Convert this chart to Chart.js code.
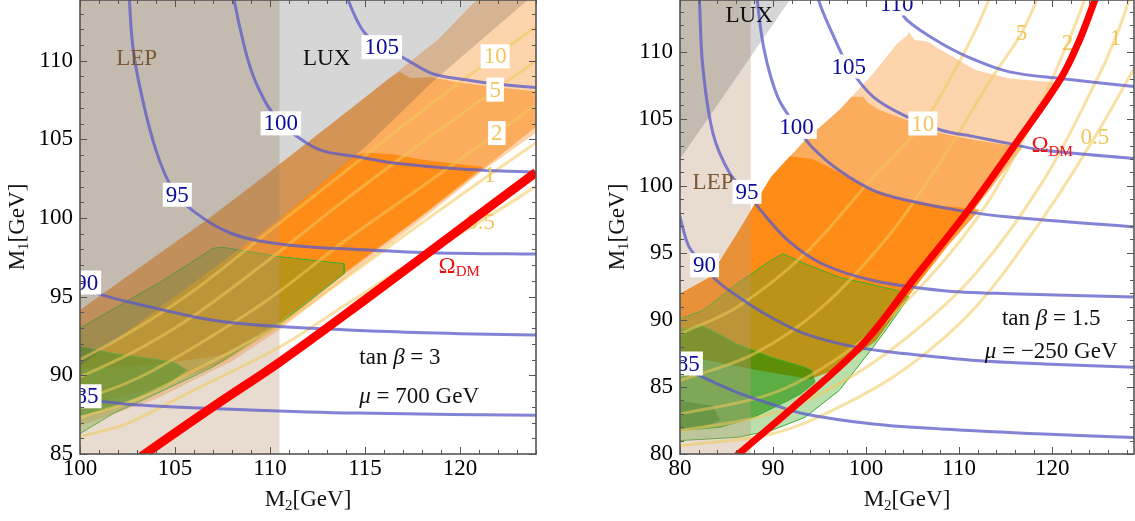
<!DOCTYPE html>
<html>
<head>
<meta charset="utf-8">
<script src="https://cdn.jsdelivr.net/npm/chart.js@4.4.0/dist/chart.umd.min.js"></script>
<style>
  html, body { margin: 0; padding: 0; background: #fff; overflow: hidden; }
  #wrap { position: relative; width: 1135px; height: 521px; }
  canvas { position: absolute; top: 0; }
  #left { left: 0; }
  #right { left: 600px; }
</style>
</head>
<body>
<div id="wrap">
  <canvas id="left" width="540" height="521"></canvas>
  <canvas id="right" width="535" height="521"></canvas>
</div>
<script>
const SERIF = "'Liberation Serif', 'DejaVu Serif', serif";

// ---------- left panel: tan beta = 3, mu = 700 GeV ----------
const L_xRange = [100, 124];
const L_yRange = [85, 113.86];
const L_xTicks = [100, 105, 110, 115, 120];
const L_yTicks = [85, 90, 95, 100, 105, 110];

const L_lep = [[99, 80], [110.5, 80], [110.5, 120], [99, 120]];
const L_lux = [[99, 89.7], [100, 90.6], [106, 95.9], [110.5, 99.9], [115, 104.5], [118.5, 108.6], [123.6, 113.9], [125, 115.4], [99, 115.4]];

const L_peach = [[99, 93.3], [100, 94.15], [106.7, 99.9], [109, 102], [114.2, 106.9], [118.8, 111.3], [120.9, 113.9], [121.5, 114.5],
  [124.5, 114.5], [124.5, 105.8], [124, 105.4], [121.2, 103.0], [118, 99.9], [114, 96.2], [110.5, 92.9], [108, 90.9], [104, 88.5], [100, 86.8], [99, 86.3]];
const L_medium = [[99, 93.3], [100, 94.15], [106.7, 99.9], [109, 102], [114.2, 106.9], [116.2, 108.8], [116.8, 109.3], [117.4, 108.9],
  [118.5, 108.95], [120, 108.6], [122, 108.3], [124.5, 108.0], [124.5, 106.1], [124, 105.8], [121.2, 103.1], [118, 100.1], [114, 96.5],
  [110.5, 93.1], [107.5, 90.8], [104, 89.2], [100, 88.0], [99, 87.5]];
const L_dark = [[99, 89.7], [100, 90.6], [106, 95.9], [110.5, 99.9], [114.5, 104.0], [115.2, 104.15], [116.5, 104.05], [118, 103.7],
  [121.2, 103.25], [118, 100.2], [114, 96.6], [110.5, 93.4], [107.5, 91.3], [105.3, 90.9], [103, 90.6], [100, 90.4], [99, 90.3]];

const L_green1 = [[100, 93.0], [102.3, 94.6], [104.4, 96.05], [107.0, 98.07], [107.5, 98.14], [110.5, 97.54], [113.9, 97.1], [113.9, 96.48],
  [110.53, 93.3], [107.0, 90.54], [104.4, 89.05], [101.75, 87.57], [100, 86.3], [99, 85.8], [99, 92.5], [100, 93.0]];
const L_green2 = [[99, 91.9], [100, 91.81], [101.75, 91.39], [104.9, 90.86], [105.6, 90.33], [104.4, 89.26], [101.75, 87.99], [100, 87.46], [99, 87.3], [99, 91.9]];

// chargino mass contours (GeV)
const L_m105 = [[113.9, 115], [114.1, 113.9], [114.9, 111.9], [115.9, 110.86], [117, 110.2], [118.5, 109.2], [120.2, 108.8], [122, 108.5], [124.5, 108.25]];
const L_m100 = [[108.0, 115], [108.1, 113.9], [108.9, 109.8], [109.7, 107.5], [110.57, 106.02], [111.4, 105.2], [112.7, 104.3], [114.6, 103.9], [116.5, 103.5], [120.2, 103.1], [124.5, 102.9]];
const L_m95 = [[102.6, 115], [102.6, 113.9], [102.8, 110.7], [103.3, 107.5], [104.0, 104.3], [104.8, 102.0], [105.9, 100.5], [108.0, 99.0], [110.8, 98.3], [114.6, 98.0], [118.4, 97.8], [124.5, 97.7]];
const L_m90 = [[99.5, 96.0], [100, 95.7], [101.2, 95.1], [103.5, 94.4], [107, 93.5], [110.5, 93.1], [115.8, 92.8], [120, 92.65], [124.5, 92.55]];
const L_m85 = [[99.5, 88.6], [100, 88.5], [103.3, 88.1], [108.9, 87.8], [114.6, 87.6], [124.5, 87.45]];

// yellow ratio contours
const L_y05 = [[99, 85.7], [100, 86.1], [102.46, 86.93], [105.96, 89.05], [110.5, 91.8], [114, 94.5], [118, 97.6], [121.1, 99.8], [124.5, 102.4]];
const L_y1 = [[99, 86.9], [100, 87.3], [103, 88.5], [106, 90.3], [110.5, 93.2], [114, 96.2], [118, 99.7], [121.56, 102.75], [124.5, 105.2]];
const L_y2 = [[99, 88.0], [100, 88.4], [103, 89.8], [106, 91.8], [110, 94.9], [114, 98.6], [118, 102.0], [121.94, 105.4], [124.5, 107.6]];
const L_y5 = [[99, 89.4], [100, 89.9], [103, 91.6], [106, 93.8], [110, 97.4], [114, 101.2], [118, 104.8], [121.85, 108.16], [124.5, 110.4]];
const L_y10 = [[99, 90.6], [100, 91.0], [103, 93.0], [106, 95.4], [110, 99.2], [114, 103.0], [118, 106.8], [121.85, 110.28], [124.5, 112.6]];

const L_relic = [[103.0, 84.6], [103.42, 85.0], [107, 88.0], [110.53, 90.86], [115, 94.8], [120, 99.3], [124, 102.9], [124.5, 103.35]];

const L_blueLabels = [['105', 115.88, 110.86], ['100', 110.57, 106.02], ['95', 105.12, 101.48], ['90', 100.35, 95.9], ['85', 100.37, 88.67]];
const L_yellowLabels = [['10', 121.85, 110.28, true], ['5', 121.85, 108.16, true], ['2', 121.94, 105.4, true], ['1', 121.56, 102.75, false], ['0.5', 121.09, 99.78, false]];

// ---------- right panel: tan beta = 1.5, mu = -250 GeV ----------
const R_xRange = [80, 128.8];
const R_yRange = [80, 113.86];
const R_xTicks = [80, 90, 100, 110, 120];
const R_yTicks = [80, 85, 90, 95, 100, 105, 110];

const R_lep = [[79, 70], [87.6, 70], [87.6, 120], [79, 120]];
const R_lux = [[79, 101.0], [80, 102.0], [91.8, 113.86], [93, 115], [79, 115]];

const R_peach = [[79, 91.6], [80, 91.95], [83.19, 93.19], [86.12, 96.43], [89.78, 100.66], [93.44, 103.4], [97.1, 105.64], [100.77, 108.38],
  [103.33, 110.62], [104.43, 111.24], [104.6, 111.5], [105.2, 110.9], [106.63, 110.74], [108.1, 110.12], [111.76, 108.63], [115.42, 108.0],
  [120.4, 107.7], [120.4, 107.55], [117.3, 103.9], [113.5, 99.9], [109.0, 95.9], [104.8, 92.0], [101, 88.4], [97, 86.4], [94, 85.6], [88, 86.3], [80, 87.4], [79, 87.5]];
const R_medium = [[79, 91.6], [80, 91.95], [83.19, 93.19], [86.12, 96.43], [89.78, 100.66], [93.44, 103.4], [97.1, 105.64], [98.44, 106.64],
  [99.67, 106.64], [100.2, 106.2], [101.5, 105.64], [104.43, 104.9], [108.1, 103.9], [111.76, 103.4], [115.42, 103.03], [117.0, 103.0],
  [113.5, 99.9], [109.0, 95.9], [104.8, 92.0], [101, 88.4], [97, 86.4], [94, 85.6], [88, 86.3], [80, 87.4], [79, 87.5]];
const R_dark = [[79, 91.6], [80, 91.95], [83.19, 93.19], [86.12, 96.43], [89.78, 100.66], [91.8, 102.2], [94.2, 102.0], [97.1, 101.0],
  [100.77, 99.6], [104.43, 98.9], [108.1, 98.5], [111.76, 98.3], [112.2, 98.2], [108.9, 95.6], [104.8, 92.0], [101, 88.4], [97, 86.4],
  [94, 85.6], [88, 86.3], [80, 87.4], [79, 87.5]];

const R_green1 = [[79, 89.9], [80, 90.08], [82.45, 90.7], [86.12, 92.7], [89.78, 94.44], [91.06, 94.94], [93.44, 94.19], [97.1, 93.19],
  [103.33, 92.2], [104.6, 91.7], [102.6, 89.7], [100.77, 87.97], [97.1, 84.73], [93.44, 82.74], [89.78, 81.74], [86.12, 81.24], [80, 81.0], [79, 80.95], [79, 89.9]];
const R_green2 = [[79, 89.1], [80, 89.2], [82.2, 89.6], [84, 89.0], [86.12, 88.2], [89.78, 87.22], [93.44, 86.47], [94.2, 86.2], [94.5, 85.35],
  [93, 84.5], [91.6, 83.98], [87.95, 82.74], [84.29, 81.99], [80, 81.75], [79, 81.7], [79, 89.1]];
const R_green3 = [[79, 84.0], [80, 83.98], [83.55, 83.6], [84.3, 82.5], [82.45, 81.99], [80, 81.87], [79, 81.85], [79, 84.0]];

const R_m110 = [[101.5, 116], [102.5, 114.5], [103.3, 113.6], [104.4, 112.36], [108.1, 110.62], [111.76, 109.37], [115.42, 108.5], [120.9, 108.0], [129.5, 107.35]];
const R_m105 = [[94.8, 115], [94.9, 113.86], [96.37, 111.37], [98.13, 108.9], [100.77, 106.64], [104.43, 105.14], [108.1, 104.15], [111.76, 103.65], [115.42, 103.15], [119.08, 102.65], [129.5, 102.0]];
const R_m100 = [[88.2, 115], [88.3, 113.86], [89.05, 110.12], [90.5, 106.64], [92.53, 104.4], [94.18, 102.9], [97.1, 101.16], [100.77, 99.67], [104.43, 98.92], [109.93, 98.17], [115.42, 97.67], [129.5, 96.9]];
const R_m95 = [[82.05, 115], [82.09, 113.86], [82.45, 108.88], [83.55, 103.9], [85.38, 100.91], [87.2, 99.55], [88.68, 98.17], [91.6, 95.93], [95.27, 94.19], [100.77, 92.94], [108.1, 92.2], [115.42, 91.95], [129.5, 91.7]];
const R_m90 = [[79.5, 98.8], [80, 97.67], [80.99, 95.43], [82.64, 94.08], [83.92, 92.94], [86.85, 91.45], [89.78, 90.2], [93.44, 88.96], [98.94, 87.97], [104.43, 87.47], [111.76, 86.97], [119.08, 86.72], [129.5, 86.45]];
const R_m85 = [[79.5, 86.8], [80, 86.6], [82.45, 85.73], [86.12, 84.6], [89.78, 83.73], [93.44, 82.99], [100.77, 82.24], [108.1, 81.87], [119.08, 81.49], [129.5, 81.22]];

const R_y05 = [[79, 80.55], [80, 80.62], [89.78, 81.49], [97.1, 83.49], [104.43, 86.47], [111.76, 90.95], [119.08, 97.67], [124.6, 103.65], [129.5, 109.6]];
const R_y1 = [[79, 81.7], [80, 81.74], [89.78, 82.99], [97.1, 85.23], [104.43, 88.71], [111.76, 93.44], [119.08, 100.41], [124.6, 107.63], [126.8, 111.0], [128.6, 114.5]];
const R_y2 = [[79, 82.9], [80, 82.99], [89.78, 84.48], [97.1, 87.22], [104.43, 91.45], [111.76, 97.43], [117.25, 103.9], [121.65, 110.62], [123.5, 113.86], [124, 114.8]];
const R_y5 = [[79, 85.2], [80, 85.48], [87.95, 87.47], [95.27, 90.95], [102.6, 96.43], [108.1, 101.9], [113.6, 108.13], [116.7, 111.37], [118.35, 113.86], [119, 115]];
const R_y10 = [[79, 88.6], [80, 88.96], [86.12, 90.95], [93.44, 94.94], [100.77, 100.66], [106.1, 104.65], [109.93, 109.13], [112.1, 112.1], [113.2, 113.86], [114, 115]];

const R_relic = [[85.8, 79.6], [86.3, 80], [91.98, 83.36], [99.67, 88.22], [105.16, 93.07], [110.84, 98.05], [115.97, 103.03], [120.92, 108.0], [122.9, 110.8], [124.6, 113.86], [125.2, 114.9]];

const R_blueLabels = [['110', 103.3, 113.6], ['105', 98.13, 108.9], ['100', 92.53, 104.4], ['95', 87.2, 99.55], ['90', 82.64, 94.08], ['85', 80.9, 86.75]];
const R_yellowLabels = [['10', 106.1, 104.65, true], ['5', 116.7, 111.37, false], ['2', 121.65, 110.62, false], ['1', 126.8, 111.0, false], ['0.5', 124.6, 103.65, false]];

// ---------- styles ----------
const C_PEACH = 'rgba(252,160,70,0.45)';
const C_MEDIUM = 'rgba(250,140,30,0.55)';
const C_DARK = 'rgba(255,130,0,0.75)';
const C_GREEN1 = 'rgba(60,160,20,0.35)';
const C_GREEN2 = 'rgba(30,140,0,0.6)';
const C_GREEN3 = 'rgba(0,100,0,0.35)';
const C_GREEN_EDGE = '#3cae2c';
const C_LEP = 'rgba(190,155,120,0.35)';
const C_LUX = 'rgba(50,50,50,0.2)';
const C_YELLOW = 'rgba(243,200,90,0.55)';
const C_BLUE = 'rgba(90,90,200,0.75)';
const C_RED = '#ff0000';

function pts(a) { return a.map(([x, y]) => ({ x, y })); }

function region(a, color, edge) {
  return { data: pts(a), fill: 'shape', backgroundColor: color, borderColor: edge || 'rgba(0,0,0,0)',
           borderWidth: edge ? 1 : 0, pointRadius: 0, tension: 0, clip: 0 };
}
function curve(a, color, width) {
  return { data: pts(a), fill: false, borderColor: color, borderWidth: width, pointRadius: 0, tension: 0.35, clip: 0 };
}

// rich text: parts = [text, style, size, dy]
function drawRich(ctx, parts, x, y, align) {
  let w = 0;
  parts.forEach(([t, st, sz]) => { ctx.font = `${st} ${sz}px ${SERIF}`; w += ctx.measureText(t).width; });
  let cx = align === 'center' ? x - w / 2 : x;
  ctx.textAlign = 'left';
  ctx.textBaseline = 'middle';
  parts.forEach(([t, st, sz, dy]) => {
    ctx.font = `${st} ${sz}px ${SERIF}`;
    ctx.fillText(t, cx, y + (dy || 0));
    cx += ctx.measureText(t).width;
  });
}

function panelPlugin(p) {
  return {
    id: 'panel',
    afterDatasetDraw(chart, args) {
      if (!chart.data.datasets[args.index].labelsAfter) return;
      const { ctx, chartArea: a, scales: { x, y } } = chart;
      ctx.save();
      ctx.beginPath();
      ctx.rect(a.left, a.top, a.right - a.left, a.bottom - a.top);
      ctx.clip();
      ctx.font = `normal 23px ${SERIF}`;
      ctx.textAlign = 'center';
      ctx.textBaseline = 'middle';
      const label = (t, vx, vy, color, box) => {
        const px = x.getPixelForValue(vx), py = y.getPixelForValue(vy);
        const w = ctx.measureText(t).width;
        if (box) { ctx.fillStyle = '#fff'; ctx.fillRect(px - w / 2 - 3, py - 12, w + 6, 24); }
        ctx.fillStyle = color;
        ctx.fillText(t, px, py + 1);
      };
      p.blueLabels.forEach(([t, vx, vy]) => label(t, vx, vy, '#0b0b9c', true));
      p.yellowLabels.forEach(([t, vx, vy, b]) => label(t, vx, vy, '#f1c65a', b));
      ctx.restore();
    },
    afterDatasetsDraw(chart) {
      const { ctx, scales: { x, y } } = chart;
      ctx.save();
      p.texts.forEach(([parts, vx, vy, color, align]) => {
        ctx.fillStyle = color;
        drawRich(ctx, parts, x.getPixelForValue(vx), y.getPixelForValue(vy), align);
      });
      ctx.restore();
    },
    afterDraw(chart) {
      const { ctx, chartArea: a, scales: { x, y } } = chart;
      ctx.save();
      ctx.strokeStyle = '#555';
      ctx.lineWidth = 1;
      ctx.beginPath();
      for (let v = p.xRange[0]; v <= p.xRange[1] + 1e-6; v += p.xMinor) {
        const px = Math.round(x.getPixelForValue(v)) + 0.5;
        const len = p.xTicks.includes(v) ? 7 : 4;
        ctx.moveTo(px, a.bottom); ctx.lineTo(px, a.bottom - len);
        ctx.moveTo(px, a.top); ctx.lineTo(px, a.top + len);
      }
      for (let v = p.yRange[0]; v <= p.yRange[1] + 1e-6; v += p.yMinor) {
        const py = Math.round(y.getPixelForValue(v)) + 0.5;
        const len = p.yTicks.includes(v) ? 7 : 4;
        ctx.moveTo(a.left, py); ctx.lineTo(a.left + len, py);
        ctx.moveTo(a.right, py); ctx.lineTo(a.right - len, py);
      }
      ctx.stroke();
      ctx.lineWidth = 1.6;
      ctx.strokeStyle = '#555';
      ctx.strokeRect(a.left, a.top, a.right - a.left, a.bottom - a.top);
      // axis titles
      ctx.fillStyle = '#111';
      drawRich(ctx, [['M', 'normal', 23], ['2', 'normal', 15, 6], ['[GeV]', 'normal', 23]], (a.left + a.right) / 2, 500, 'center');
      ctx.translate(18, 227);
      ctx.rotate(-Math.PI / 2);
      drawRich(ctx, [['M', 'normal', 23], ['1', 'normal', 15, 6], ['[GeV]', 'normal', 23]], 0, 0, 'center');
      ctx.restore();
    }
  };
}

function makePanel(id, p) {
  const layers = [
    region(p.peach, C_PEACH),
    region(p.medium, C_MEDIUM),
    region(p.dark, C_DARK),
    ...p.greens.map(([g, c, e]) => region(g, c, e)),
    region(p.lep, C_LEP),
    region(p.lux, C_LUX),
    ...p.yellow.map(a => curve(a, C_YELLOW, 3)),
    ...p.blue.map(a => curve(a, C_BLUE, 3)),
    curve(p.relic, C_RED, p.redWidth)
  ];
  layers[layers.length - 2].labelsAfter = true;
  // first dataset is drawn on top in Chart.js, so give later layers a lower order
  layers.forEach((d, i) => { d.order = layers.length - i; });

  const axis = (range, ticks, isX) => ({
    type: 'linear', min: range[0], max: range[1],
    afterBuildTicks: s => { s.ticks = ticks.map(v => ({ value: v })); },
    afterFit: s => {
      if (isX) { s.height = 67; s.paddingLeft = 0; s.paddingRight = 0; }
      else { s.width = 80; s.paddingTop = 0; s.paddingBottom = 0; }
    },
    ticks: { autoSkip: false, maxRotation: 0, padding: isX ? 1 : 7, color: '#000',
             font: { family: SERIF, size: 23 }, callback: v => String(v) },
    grid: { display: false, drawTicks: false },
    border: { display: false }
  });

  return new Chart(document.getElementById(id), {
    type: 'line',
    data: { datasets: layers },
    options: {
      responsive: false,
      animation: false,
      devicePixelRatio: 1,
      events: [],
      layout: { padding: { left: 0, top: 0, bottom: 0, right: p.padRight } },
      plugins: { legend: { display: false }, tooltip: { enabled: false } },
      scales: { x: axis(p.xRange, p.xTicks, true), y: axis(p.yRange, p.yTicks, false) }
    },
    plugins: [panelPlugin(p)]
  });
}

const beta = (rest, size) => [['tan ', 'normal', size], ['\u03b2', 'italic', size], [rest, 'normal', size]];
const omega = [['\u03a9', 'normal', 23], ['DM', 'normal', 15, 6]];

makePanel('left', {
  xRange: L_xRange, yRange: L_yRange, xTicks: L_xTicks, yTicks: L_yTicks, xMinor: 1, yMinor: 1, padRight: 4,
  peach: L_peach, medium: L_medium, dark: L_dark,
  greens: [[L_green1, C_GREEN1, C_GREEN_EDGE], [L_green2, C_GREEN2, C_GREEN_EDGE]],
  lep: L_lep, lux: L_lux,
  yellow: [L_y05, L_y1, L_y2, L_y5, L_y10],
  blue: [L_m105, L_m100, L_m95, L_m90, L_m85],
  relic: L_relic, redWidth: 9,
  blueLabels: L_blueLabels, yellowLabels: L_yellowLabels,
  texts: [
    [[['LEP', 'normal', 23]], 102.98, 110.12, '#7b5733', 'center'],
    [[['LUX', 'normal', 23]], 112.98, 110.12, '#111', 'center'],
    [beta(' = 3', 23), 114.7, 91.09, '#111', 'left'],
    [[['\u03bc', 'italic', 23], [' = 700 GeV', 'normal', 23]], 114.7, 88.65, '#111', 'left'],
    [omega, 119.96, 96.92, '#ee1111', 'center']
  ]
});

makePanel('right', {
  xRange: R_xRange, yRange: R_yRange, xTicks: R_xTicks, yTicks: R_yTicks, xMinor: 2, yMinor: 1, padRight: 1,
  peach: R_peach, medium: R_medium, dark: R_dark,
  greens: [[R_green1, C_GREEN1, C_GREEN_EDGE], [R_green2, C_GREEN2, C_GREEN_EDGE], [R_green3, C_GREEN3, null]],
  lep: R_lep, lux: R_lux,
  yellow: [R_y05, R_y1, R_y2, R_y5, R_y10],
  blue: [R_m110, R_m105, R_m100, R_m95, R_m90, R_m85],
  relic: R_relic, redWidth: 7,
  blueLabels: R_blueLabels, yellowLabels: R_yellowLabels,
  texts: [
    [[['LUX', 'normal', 23]], 87.43, 112.66, '#111', 'center'],
    [[['LEP', 'normal', 23]], 83.55, 100.18, '#7b5733', 'center'],
    [beta(' = 1.5', 23), 119.9, 90.05, '#111', 'center'],
    [[['\u03bc', 'italic', 23], [' = \u2212250 GeV', 'normal', 23]], 119.9, 87.6, '#111', 'center'],
    [omega, 120.0, 102.98, '#ee1111', 'center']
  ]
});
</script>
</body>
</html>
